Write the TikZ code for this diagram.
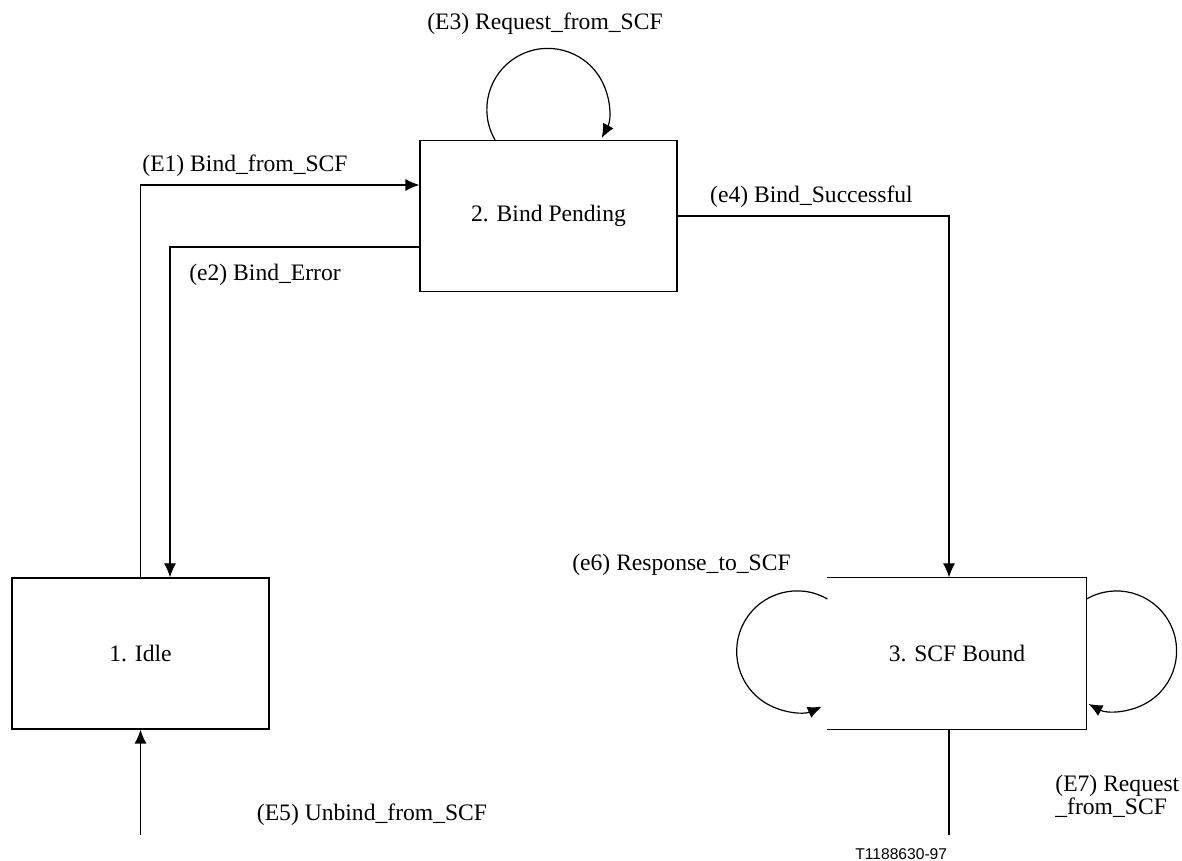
\documentclass[tikz,border=0pt]{standalone}
\usepackage{fontspec}
\setmainfont{Liberation Serif}
\newfontfamily\tagfont{Liberation Sans}
\usetikzlibrary{calc,positioning,arrows.meta}
\tikzset{
   state/.style={ rectangle, draw=black, line width=0.6pt, minimum width=128.5pt, minimum height=75.5pt, text centered, font=\fontsize{11.8pt}{13pt}\selectfont},
   open state/.style={ state, draw=none},
   event/.style={ inner sep=0pt, font=\fontsize{11.8pt}{11.5pt}\selectfont},
   link/.style={ line width=0.6pt},
   >={Latex[length=7pt,width=6pt]}
}
\begin{document}
\begin{tikzpicture}[x=0.5pt,y=0.5pt]
  \useasboundingbox (0,0) rectangle (1182,861);

  \node[state] at (140.5,207.5) (idle)    {1. Idle};
  \node[state] at (548.5,645)   (pending) {2. Bind Pending};
  \node[open state, minimum width=129pt] at (957,207.5) (bound) {3. SCF Bound};
  \draw[link] (bound.north west) -- (bound.north east) -- (bound.south east) -- (bound.south west);

  \coordinate (unbind start) at (140.5,26);
  \coordinate (bound exit)   at (949,26);

  \node[event] at (545,837)   (e3 label) {(E3) Request\_from\_SCF};
  \node[event] at (245,695)   (e1 label) {(E1) Bind\_from\_SCF};
  \node[event] at (265,586)   (e2 label) {(e2) Bind\_Error};
  \node[event] at (811.5,664) (e4 label) {(e4) Bind\_Successful};
  \node[event] at (681.5,296) (e6 label) {(e6) Response\_to\_SCF};
  \node[event] at (372,46)    (e5 label) {(E5) Unbind\_from\_SCF};
  \node[event, anchor=west, align=left] at (1055,64.5) (e7 label) {(E7) Request\\\_from\_SCF};
  \node[inner sep=0pt, anchor=base west, font=\tagfont\fontsize{7.8pt}{9pt}\selectfont] at (855,2) (tag) {T1188630-97};

  \draw[link,->] (idle.north) |- ($(pending.west)+(0,31)$);
  \draw[link,->] ($(pending.west)+(0,-31)$) -| ($(idle.north)+(29.5,0)$);
  \draw[link,->] (pending.east) -| ($(bound.north)+(-8,0)$);
  \draw[link,->] (unbind start) -- (idle.south);
  \draw[link]    ($(bound.south)+(-8,0)$) -- (bound exit);

  \draw[link,->] ($(pending.north)+(-53.5,0)$) arc[start angle=210, end angle=-28, radius=30.5pt];
  \draw[link,->] ($(bound.west)+(0,54.5)$) arc[start angle=60, end angle=294, radius=30.25pt];
  \draw[link,->] ($(bound.east)+(0,54.5)$) arc[start angle=120, end angle=-118, radius=30pt];

\end{tikzpicture}
\end{document}
